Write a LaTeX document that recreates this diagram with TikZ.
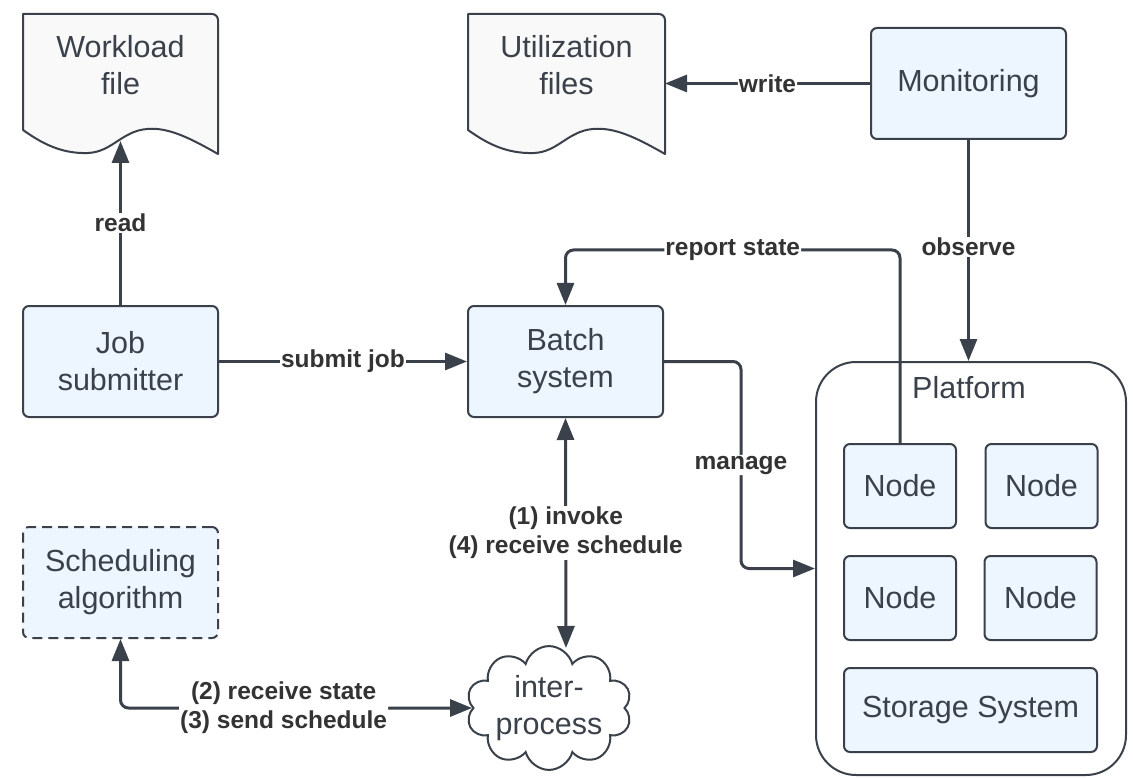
\documentclass[tikz,border=0pt]{standalone}
\usepackage{fontspec}
\setmainfont{Liberation Sans}
\usetikzlibrary{arrows.meta,shapes.symbols,calc}
\definecolor{ink}{HTML}{3A414A}
\definecolor{boxfill}{HTML}{EDF5FF}
\definecolor{docfill}{HTML}{F9F9F9}
\definecolor{labelink}{HTML}{333333}

\begin{document}
\begin{tikzpicture}[x=1pt,y=-1pt,
  box/.style={draw=ink, line width=2pt, fill=boxfill, rounded corners=6pt, text=ink,
    font=\fontsize{30.5}{37}\selectfont, align=center, inner sep=0pt},
  doctext/.style={text=ink, font=\fontsize{30.5}{37}\selectfont, align=center, inner sep=0pt},
  docshape/.style={draw=ink, line width=2pt, fill=docfill, line join=round},
  conn/.style={draw=ink, line width=3pt, -{Triangle[length=22pt,width=17pt]}, rounded corners=8pt},
  biconn/.style={draw=ink, line width=3pt, {Triangle[length=22pt,width=17pt]}-{Triangle[length=22pt,width=17pt]}, rounded corners=8pt},
  lbl/.style={fill=white, text=labelink, font=\bfseries\fontsize{24.5}{29}\selectfont, inner sep=1pt, align=center}]

\useasboundingbox (0,0) rectangle (1133,778);

% workload file (document shape)
\draw[docshape] (23,130) -- (23,14) [rounded corners=6pt] -- (218,14) [sharp corners] -- (218,154)
  .. controls (190,138) and (168,127) .. (147,129)
  .. controls (122,131) and (112,152) .. (88,153)
  .. controls (60,154) and (40,142) .. (23,130) -- cycle;
\node[doctext] (wl) at (120.5,65) {Workload\\file};
\coordinate (wlwave) at (120.5,141);

% utilization files (document shape)
\draw[docshape] (468,130) -- (468,14) [rounded corners=6pt] -- (665,14) [sharp corners] -- (665,154)
  .. controls (637,138) and (615,127) .. (593,129)
  .. controls (568,131) and (558,152) .. (534,153)
  .. controls (505,154) and (485,142) .. (468,130) -- cycle;
\node[doctext] (util) at (566.5,65) {Utilization\\files};
\coordinate (utilR) at (665,83.5);

% main components
\node[box, minimum width=195pt, minimum height=111pt] (mon) at (968.5,83.5) {Monitoring};
\node[box, minimum width=195pt, minimum height=111pt] (job) at (120.5,361.5) {Job\\submitter};
\node[box, minimum width=195pt, minimum height=111pt] (batch) at (565.5,361.5) {Batch\\system};
\node[box, minimum width=195pt, minimum height=111pt, dash pattern=on 10pt off 6pt] (sched) at (120.5,582.5) {Scheduling\\algorithm};

% inter-process channel
\node[cloud, cloud puffs=10, cloud ignores aspect, draw=ink, line width=2pt, fill=white,
  minimum width=165pt, minimum height=122pt, doctext] (ipc) at (549,708) {inter-\\process};
\coordinate (ipctop) at (566,648);

% platform with its nodes
\node[draw=ink, line width=2pt, rounded corners=40pt, minimum width=310pt, minimum height=413pt] (plat) at (971,568.5) {};
\node[doctext] (platlbl) at (969,388) {Platform};
\node[box, minimum width=112pt, minimum height=84pt] (n1) at (900,486) {Node};
\node[box, minimum width=112pt, minimum height=84pt] (n2) at (1041.5,486) {Node};
\node[box, minimum width=112pt, minimum height=84pt] (n3) at (900,598) {Node};
\node[box, minimum width=112pt, minimum height=84pt] (n4) at (1040.5,598) {Node};
\node[box, minimum width=253pt, minimum height=84pt] (store) at (970.5,710) {Storage System};

% connectors
\draw[conn] (job.north) -- node[lbl]{read} (wlwave);
\draw[conn] (mon.west) -- node[lbl]{write} (utilR);
\draw[conn] (job.east) -- node[lbl]{submit job} (batch.west);
\draw[conn] (mon.south) -- (mon.south |- plat.north);
\node[lbl] (obslbl) at (968.5,247) {observe};
\draw[conn] (n1.north) -- ++(0,-193) -| node[lbl, pos=0.25]{report state} (batch.north);
\draw[conn] (batch.east) -- ++(77,0) |- node[lbl, pos=0.25]{manage} (plat.west);
\draw[biconn] (batch.south) -- node[lbl]{(1) invoke\\(4) receive schedule} (ipctop);
\draw[biconn] (ipc.west) -| node[lbl, pos=0.268]{(2) receive state\\(3) send schedule} (sched.south);

\end{tikzpicture}
\end{document}
